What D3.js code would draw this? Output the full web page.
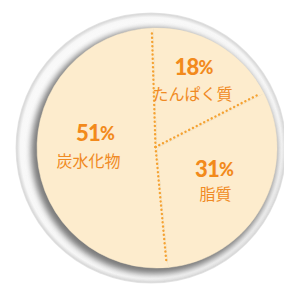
<!DOCTYPE html>
<html><head><meta charset="utf-8">
<script src="https://cdn.jsdelivr.net/npm/d3@7"></script>
<style>html,body{margin:0;padding:0;background:#fff;}svg{display:block;}</style>
</head><body>
<svg id="c" width="284" height="285"></svg>
<script>
const categories = ["たんぱく質", "脂質", "炭水化物"];
const values = [18, 31, 51];
const percentLabels = ["18%", "31%", "51%"];

const svg = d3.select("#c");
const defs = svg.append("defs");
const blur = defs.append("filter").attr("id","blur").attr("x","-20%").attr("y","-20%").attr("width","140%").attr("height","140%");
blur.append("feGaussianBlur").attr("stdDeviation",3.2);
const rg = defs.append("radialGradient").attr("id","rim").attr("cx","0.5").attr("cy","0.5").attr("r","0.5");
rg.append("stop").attr("offset","0.88").attr("stop-color","#ffffff");
rg.append("stop").attr("offset","0.965").attr("stop-color","#f7f7f7");
rg.append("stop").attr("offset","0.99").attr("stop-color","#d9d9d9");
rg.append("stop").attr("offset","1").attr("stop-color","#e6e6e6");

// bezel
svg.append("circle").attr("cx",151).attr("cy",148).attr("r",135.5).attr("fill","url(#rim)");
svg.append("circle").attr("cx",154).attr("cy",151).attr("r",123).attr("fill","#7a7a7a").attr("filter","url(#blur)");

const cx = 157, cy = 148, R = 120;
const g = svg.append("g").attr("transform",`translate(${cx},${cy})`);
const startA = -1.8 * Math.PI / 180;
const pie = d3.pie().sort(null).value(d => d).startAngle(startA).endAngle(startA + 2*Math.PI);
const arcs = pie(values);
const arc = d3.arc().innerRadius(0).outerRadius(R);
g.selectAll("path.s").data(arcs).join("path").attr("class","s")
  .attr("d", arc).attr("fill","#fdeccd").attr("stroke","#fdeccd").attr("stroke-width",0.5);

// dotted dividers
const lc = [-1.5, -1];
g.selectAll("line.d").data(arcs).join("line").attr("class","d")
  .attr("x1", lc[0]).attr("y1", lc[1])
  .attr("x2", d => lc[0] + (R-4)*Math.sin(d.startAngle))
  .attr("y2", d => lc[1] - (R-4)*Math.cos(d.startAngle))
  .attr("stroke","#f5a232").attr("stroke-width",2.4)
  .attr("stroke-linecap","round").attr("stroke-dasharray","0.1 4.1");

// label placement (offsets from pie centre)
const numPos = [[36.5, -73], [57, 29], [-62, -7]];
const namePos = [[35.5, -48.5], [58.5, 51.5], [-68.5, 18.5]];

g.selectAll("text.n").data(arcs).join("text").attr("class","n")
  .attr("text-anchor","middle")
  .attr("x", (d,i) => numPos[i][0]).attr("y", (d,i) => numPos[i][1])
  .attr("font-family","Lato, 'Noto Sans CJK JP', sans-serif").attr("font-weight","900")
  .attr("font-size",22).attr("letter-spacing",-0.8).attr("fill","#f28a1c")
  .each(function(d,i){
    const t = d3.select(this);
    const s = percentLabels[i];
    t.append("tspan").text(s.slice(0,-1));
    t.append("tspan").attr("font-size",18).attr("dy",-1.5).text("%");
  });
g.selectAll("text.c").data(arcs).join("text").attr("class","c")
  .attr("text-anchor","middle")
  .attr("x", (d,i) => namePos[i][0]).attr("y", (d,i) => namePos[i][1])
  .attr("font-family","'Noto Sans CJK JP', sans-serif").attr("font-weight","400")
  .attr("font-size",16).attr("fill","#f08a24")
  .text((d,i) => categories[i]);
</script>
</body></html>
